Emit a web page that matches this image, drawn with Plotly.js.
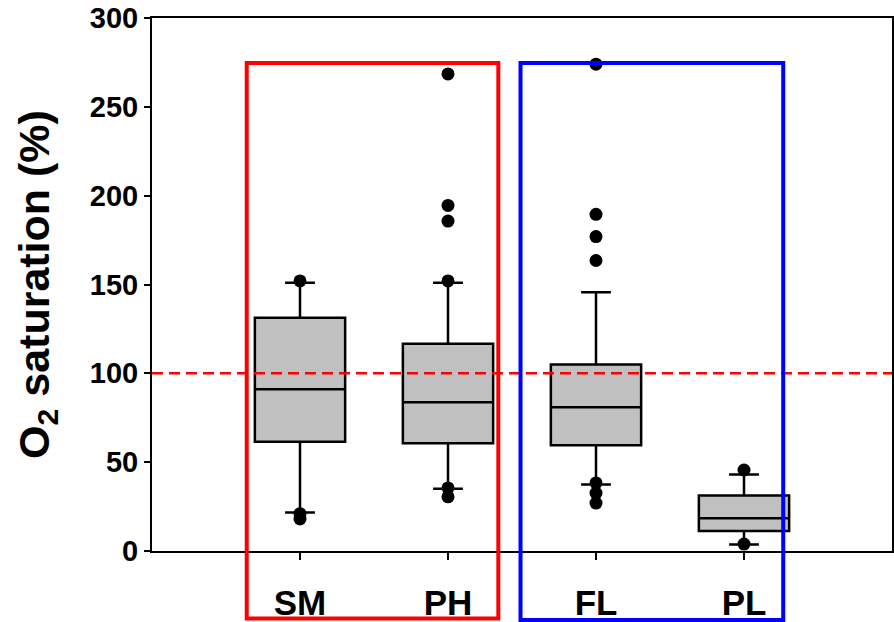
<!DOCTYPE html>
<html>
<head>
<meta charset="utf-8">
<script src="https://cdn.plot.ly/plotly-3.0.1.min.js"></script>
<style>html,body{margin:0;padding:0;background:#fff;}#chart{width:894px;height:622px;}</style>
</head>
<body>
<div id="chart"></div>
<script>
// Data
const categories = ['SM', 'PH', 'FL', 'PL'];
const q1Values = [61.5, 60.6, 59.5, 11.3];
const medianValues = [91, 83.7, 80.9, 18.4];
const q3Values = [131.3, 116.7, 105, 31.3];
const lowerWhisker = [21.6, 35, 37.5, 3.6];
const upperWhisker = [151, 151, 145.6, 43];
const outliersSM = [152, 21, 18];
const outliersPH = [268.5, 194.5, 185.7, 152, 35.5, 30.5];
const outliersFL = [274, 189.5, 177, 163.5, 38.3, 32.6, 27];
const outliersPL = [45.6, 3.9];
const referenceLevel = 100;
const yTicks = [0, 50, 100, 150, 200, 250, 300];

const outlierGroups = [outliersSM, outliersPH, outliersFL, outliersPL];
const outX = [], outY = [];
outlierGroups.forEach((g, i) => g.forEach(v => { outX.push(categories[i]); outY.push(v); }));

const FONT = 'Arial, "Liberation Sans", sans-serif';

const traces = [
  {
    type: 'box',
    x: categories,
    q1: q1Values,
    median: medianValues,
    q3: q3Values,
    lowerfence: lowerWhisker,
    upperfence: upperWhisker,
    boxpoints: false,
    width: 0.61,
    whiskerwidth: 0.33,
    fillcolor: '#c0c0c0',
    line: {color: '#000', width: 2.5},
    hoverinfo: 'skip',
    showlegend: false
  },
  {
    type: 'scatter',
    mode: 'markers',
    x: outX,
    y: outY,
    marker: {color: '#000', size: 13},
    cliponaxis: false,
    hoverinfo: 'skip',
    showlegend: false
  }
];

const layout = {
  width: 894,
  height: 622,
  margin: {l: 152, r: 2, t: 18, b: 71},
  paper_bgcolor: '#fff',
  plot_bgcolor: '#fff',
  showlegend: false,
  font: {family: FONT, color: '#000'},
  xaxis: {
    type: 'category',
    categoryorder: 'array',
    categoryarray: categories,
    range: [-1, 4],
    showgrid: false,
    zeroline: false,
    showline: true,
    mirror: true,
    linecolor: '#000',
    linewidth: 2,
    ticks: 'outside',
    ticklen: 7,
    tickwidth: 2,
    tickcolor: '#000',
    ticklabelstandoff: 13,
    tickfont: {family: FONT, size: 35, color: '#000', weight: 'bold'}
  },
  yaxis: {
    range: [0, 300],
    tickvals: yTicks,
    ticktext: yTicks.map(String),
    showgrid: false,
    zeroline: false,
    showline: true,
    mirror: true,
    linecolor: '#000',
    linewidth: 2,
    ticks: 'outside',
    ticklen: 6,
    tickwidth: 2,
    tickcolor: '#000',
    tickfont: {family: FONT, size: 29, color: '#000', weight: 'bold'},
    title: {
      text: 'O<sub>2</sub> saturation (%)',
      font: {family: FONT, size: 43, color: '#000', weight: 'bold'},
      standoff: 27
    }
  },
  shapes: [
    {type: 'line', xref: 'paper', yref: 'y', x0: 0, x1: 1, y0: referenceLevel, y1: referenceLevel,
     line: {color: '#ff0000', width: 2.5, dash: '11px,6px'}, layer: 'above'},
    {type: 'rect', xref: 'x', yref: 'paper', x0: -0.36, x1: 1.34, y0: -0.1266, y1: 0.9156,
     line: {color: '#ff0000', width: 4}, fillcolor: 'rgba(0,0,0,0)', layer: 'above'},
    {type: 'rect', xref: 'x', yref: 'paper', x0: 1.49, x1: 3.265, y0: -0.1295, y1: 0.9156,
     line: {color: '#0000ff', width: 4}, fillcolor: 'rgba(0,0,0,0)', layer: 'above'}
  ]
};

Plotly.newPlot('chart', traces, layout, {displayModeBar: false, staticPlot: true});
</script>
</body>
</html>
